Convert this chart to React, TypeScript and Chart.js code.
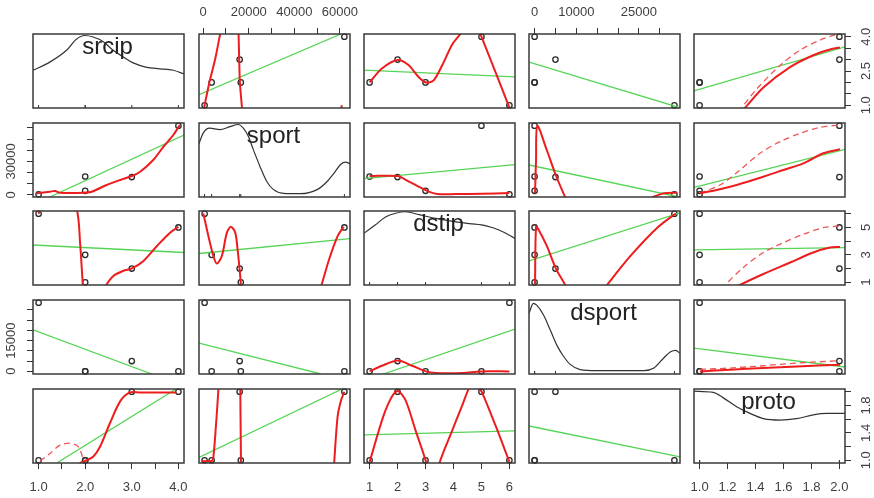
import React, { useEffect, useRef } from 'react';
import { Chart, registerables } from 'chart.js';

Chart.register(...registerables);

// ---------------- observations ----------------
const varNames = ['srcip', 'sport', 'dstip', 'dsport', 'proto'];
const srcip = [1, 2, 2, 3, 4];
const sport = [600, 3700, 16500, 16000, 62000];
const dstip = [6, 3, 1, 2, 5];
const dsport = [33500, 0, 0, 5000, 0];
const proto = [1, 1, 1, 2, 2];

// ---------------- ticks and tick labels ('' = unlabeled tick) ----------------
const srcipTicks = [1, 1.5, 2, 2.5, 3, 3.5, 4];
const sportTicks = [0, 10000, 20000, 30000, 40000, 50000, 60000];
const dstipTicks = [1, 2, 3, 4, 5, 6];
const dsportTicks = [0, 5000, 10000, 15000, 20000, 25000, 30000];
const protoTicks = [1, 1.2, 1.4, 1.6, 1.8, 2];

const srcipBottomLabels = ['1.0', '', '2.0', '', '3.0', '', '4.0'];
const srcipRightLabels = ['1.0', '', '', '2.5', '', '', '4.0'];
const sportTopLabels = ['0', '', '20000', '', '40000', '', '60000'];
const sportLeftLabels = ['0', '', '', '30000', '', '', ''];
const dstipBottomLabels = ['1', '2', '3', '4', '5', '6'];
const dstipRightLabels = ['1', '', '3', '', '5', ''];
const dsportTopLabels = ['0', '', '10000', '', '', '25000', ''];
const dsportLeftLabels = ['0', '', '', '15000', '', '', ''];
const protoBottomLabels = ['1.0', '1.2', '1.4', '1.6', '1.8', '2.0'];
const protoRightLabels = ['1.0', '', '1.4', '', '1.8', ''];

// ---------------- diagonal densities [value, relative height] ----------------
const densSrcip = [[0.88, 0.51], [1.24, 0.62], [1.6, 0.78], [1.81, 0.93], [1.99, 0.98], [2.17, 0.96], [2.38, 0.9], [2.6, 0.78], [2.82, 0.69], [3.03, 0.61], [3.32, 0.55], [3.6, 0.53], [3.89, 0.51], [4.12, 0.46]];
const densSport = [[-1856, 0.72], [-88, 0.86], [2860, 0.93], [7280, 0.91], [11700, 0.95], [15385, 0.98], [17600, 0.93], [19800, 0.82], [22000, 0.64], [24960, 0.41], [27900, 0.21], [30860, 0.1], [35270, 0.05], [42650, 0.045], [50000, 0.1], [54440, 0.21], [57380, 0.32], [60330, 0.44], [62540, 0.47], [64456, 0.45]];
const densDstip = [[0.8, 0.7], [1.2, 0.81], [1.57, 0.92], [1.93, 0.97], [2.29, 0.99], [2.77, 0.95], [3.37, 0.9], [3.97, 0.86], [4.57, 0.83], [5.17, 0.8], [5.65, 0.74], [6.2, 0.63]];
const densDsport = [[-1340, 0.82], [-297, 0.955], [505, 0.93], [2110, 0.8], [3710, 0.6], [5320, 0.39], [6920, 0.24], [8530, 0.13], [10930, 0.06], [14940, 0.045], [26180, 0.045], [28580, 0.08], [30990, 0.22], [32590, 0.3], [33800, 0.32], [34840, 0.28]];
const densProto = [[0.96, 0.97], [1.098, 0.955], [1.17, 0.88], [1.265, 0.76], [1.36, 0.67], [1.456, 0.6], [1.575, 0.58], [1.694, 0.6], [1.813, 0.65], [1.909, 0.67], [2.04, 0.67]];

// ---------------- linear fits (green) [x, y] ; name fit_<yvar>_<xvar> ----------------
const fit_srcip_sport = [[-1856, 1.46], [60500, 4.12]];
const fit_srcip_dstip = [[0.8, 2.54], [6.2, 2.24]];
const fit_srcip_dsport = [[-1340, 2.89], [34840, 0.89]];
const fit_srcip_proto = [[0.96, 1.63], [2.04, 3.56]];
const fit_sport_srcip = [[1.24, -1856], [4.12, 53700]];
const fit_sport_dstip = [[0.8, 14540], [6.2, 27090]];
const fit_sport_dsport = [[-1340, 26820], [34840, -2100]];
const fit_sport_proto = [[0.96, 6830], [2.04, 40900]];
const fit_dstip_srcip = [[0.88, 3.72], [4.12, 3.17]];
const fit_dstip_sport = [[-1856, 3.1], [64456, 4.18]];
const fit_dstip_dsport = [[-1340, 2.56], [34840, 6.07]];
const fit_dstip_proto = [[0.96, 3.36], [2.04, 3.53]];
const fit_dsport_srcip = [[0.88, 20230], [3.43, -1340]];
const fit_dsport_sport = [[-1856, 13750], [51640, -1340]];
const fit_dsport_dstip = [[1.49, -1340], [6.2, 20570]];
const fit_dsport_proto = [[0.96, 11320], [2.04, 2070]];
const fit_proto_srcip = [[1.39, 0.96], [3.95, 2.04]];
const fit_proto_sport = [[-1856, 1.04], [61000, 2.04]];
const fit_proto_dstip = [[0.8, 1.37], [6.2, 1.43]];
const fit_proto_dsport = [[-1340, 1.5], [34840, 1.05]];

// ---------------- smoothers (red, solid) ----------------
const smooth_srcip_sport = [
  [[0, 0.7], [355, 0.88], [2700, 2], [5200, 3], [7430, 4.12], [7800, 4.3]],
  [[15450, 4.3], [15520, 4.12], [15800, 3], [16100, 2], [17020, 0.88], [17100, 0.7]],
  [[60400, 0.75], [60900, 1.0]],
];
const smooth_srcip_dstip = [
  [[1, 2], [1.44, 2.61], [2.01, 2.98], [2.39, 2.76], [2.75, 2.24], [3.02, 2.0], [3.29, 2.09], [3.6, 2.76], [3.95, 3.65], [4.25, 4.12], [4.6, 4.7], [4.91, 4.2], [5, 4], [6, 0.9]],
];
const smooth_srcip_proto = [[[1.3, 0.75], [1.325, 0.89], [1.456, 1.78], [1.647, 2.67], [1.813, 3.19], [1.933, 3.44], [2.004, 3.53]]];
const smooth_sport_srcip = [[[0.96, 1460], [1.245, 2900], [1.35, 3520], [1.46, 2000], [1.96, 2000], [2.14, 2900], [2.46, 8900], [2.75, 13400], [3.0, 16960], [3.18, 20800], [3.46, 31300], [3.68, 43200], [3.89, 53700], [4.03, 62700]]];
const smooth_sport_dstip = [[[1, 16900], [2, 16900], [2.39, 12200], [3.02, 4100], [3.42, 830], [4.08, 830], [5, 1100], [6, 1700]]];
const smooth_sport_dsport = [
  [[104, 1460], [345, 31300], [660, 61800], [2920, 40260], [5160, 16960], [7330, -2100]],
  [[28200, -2100], [31000, 1460], [34200, 2000]],
];
const smooth_sport_proto = [[[1.003, 1460], [1.122, 4400], [1.265, 8900], [1.456, 16300], [1.599, 22300], [1.742, 28300], [1.885, 37300], [2.004, 40900]]];
const smooth_dstip_srcip = [
  [[1, 6], [1.2, 7.5], [1.6, 7.5], [1.82, 6.3], [1.89, 3.89], [1.95, 0.8], [1.97, 0.3]],
  [[2.42, 0.5], [2.45, 0.8], [2.61, 1.47], [2.82, 1.84], [3.0, 2.01], [3.25, 2.56], [3.54, 3.65], [3.82, 4.62], [4.0, 5.05]],
];
const smooth_dstip_sport = [
  [[45, 6.02], [2260, 4.37], [4460, 2.92], [5970, 2.37], [8180, 2.92], [10390, 4.62], [12150, 5.05], [14060, 4.62], [15080, 3.41], [15960, 1.96], [16580, 0.8], [16700, 0.4]],
  [[51000, 0.4], [51950, 0.8], [55300, 2.68], [59020, 4.37], [61670, 5.05]],
];
const smooth_dstip_dsport = [
  [[90, 0.4], [104, 0.8], [345, 5.05], [900, 4.86], [2920, 3.65], [5160, 1.96], [7330, 0.8], [7700, 0.4]],
  [[16500, 0.4], [17360, 0.8], [22970, 2.92], [29390, 4.98], [33800, 6.02]],
];
const smooth_dstip_proto = [[[1.26, 0.6], [1.289, 0.8], [1.456, 1.6], [1.647, 2.44], [1.813, 3.17], [1.933, 3.53], [2.004, 3.58]]];
const smooth_dsport_dstip = [[[1, -75], [1.44, 2700], [2.01, 5280], [2.52, 2700], [3.02, -75], [3.36, -850], [4.32, -850], [4.98, -75], [6, -75]]];
const smooth_dsport_proto = [[[1.003, -75], [1.218, 750], [1.456, 1580], [1.695, 2360], [2.004, 3190]]];
const smooth_proto_srcip = [[[1.85, 0.9], [1.89, 0.96], [1.996, 0.99], [2.17, 1.05], [2.32, 1.2], [2.53, 1.54], [2.75, 1.86], [2.96, 1.99], [3.18, 1.99], [3.96, 1.99]]];
const smooth_proto_sport = [
  [[-660, 0.99], [3760, 0.99], [4470, 1.05], [5660, 1.54], [6680, 2.04], [6900, 2.2]],
  [[16250, 2.2], [16270, 2.04], [16580, 0.96], [16600, 0.8]],
  [[57400, 0.8], [57520, 0.96], [59020, 1.64], [60480, 1.87], [61950, 2.0]],
];
const smooth_proto_dstip = [
  [[1, 0.975], [1.49, 1.64], [1.8, 1.93], [2.01, 2.01], [2.28, 1.88], [2.64, 1.44], [3.02, 0.975], [3.15, 0.7]],
  [[3.42, 0.7], [3.5, 0.96], [3.96, 1.44], [4.32, 1.81], [4.53, 2.03], [4.75, 2.2], [4.92, 2.03], [5.0, 2.01], [5.52, 1.49], [6.0, 0.975]],
];

// ---------------- spread smoothers (red, dashed) ----------------
const spread_srcip_proto = [[[1.28, 0.7], [1.301, 0.89], [1.408, 1.71], [1.575, 2.74], [1.718, 3.41], [1.861, 3.85], [1.968, 4.08], [2.0, 4.08]]];
const spread_sport_proto = [[[1.003, 1460], [1.146, 8900], [1.289, 22300], [1.432, 37300], [1.575, 47700], [1.718, 55200], [1.861, 60600], [2.004, 62700]]];
const spread_dstip_proto = [[[1.16, 0.5], [1.182, 0.8], [1.313, 2.08], [1.456, 3.17], [1.599, 3.89], [1.742, 4.5], [1.885, 4.98], [2.004, 5.1]]];
const spread_dsport_proto = [[[1.003, 900], [1.218, 1580], [1.456, 2700], [1.695, 4020], [2.004, 5140]]];
const spread_proto_srcip = [[[1.03, 0.985], [1.245, 1.1], [1.46, 1.22], [1.67, 1.25], [1.85, 1.2], [1.96, 1.02], [2.0, 0.97]]];

// ---------------- lookup tables built from the arrays above ----------------
const observations = [srcip, sport, dstip, dsport, proto];
const tickTable = [srcipTicks, sportTicks, dstipTicks, dsportTicks, protoTicks];
const densTable = [densSrcip, densSport, densDstip, densDsport, densProto];
const topLabelTable = [null, sportTopLabels, null, dsportTopLabels, null];
const bottomLabelTable = [srcipBottomLabels, null, dstipBottomLabels, null, protoBottomLabels];
const leftLabelTable = [null, sportLeftLabels, null, dsportLeftLabels, null];
const rightLabelTable = [srcipRightLabels, null, dstipRightLabels, null, protoRightLabels];

const fits: Record<string, number[][]> = {
  srcip_sport: fit_srcip_sport, srcip_dstip: fit_srcip_dstip, srcip_dsport: fit_srcip_dsport, srcip_proto: fit_srcip_proto,
  sport_srcip: fit_sport_srcip, sport_dstip: fit_sport_dstip, sport_dsport: fit_sport_dsport, sport_proto: fit_sport_proto,
  dstip_srcip: fit_dstip_srcip, dstip_sport: fit_dstip_sport, dstip_dsport: fit_dstip_dsport, dstip_proto: fit_dstip_proto,
  dsport_srcip: fit_dsport_srcip, dsport_sport: fit_dsport_sport, dsport_dstip: fit_dsport_dstip, dsport_proto: fit_dsport_proto,
  proto_srcip: fit_proto_srcip, proto_sport: fit_proto_sport, proto_dstip: fit_proto_dstip, proto_dsport: fit_proto_dsport,
};
const smooths: Record<string, number[][][]> = {
  srcip_sport: smooth_srcip_sport, srcip_dstip: smooth_srcip_dstip, srcip_proto: smooth_srcip_proto,
  sport_srcip: smooth_sport_srcip, sport_dstip: smooth_sport_dstip, sport_dsport: smooth_sport_dsport, sport_proto: smooth_sport_proto,
  dstip_srcip: smooth_dstip_srcip, dstip_sport: smooth_dstip_sport, dstip_dsport: smooth_dstip_dsport, dstip_proto: smooth_dstip_proto,
  dsport_dstip: smooth_dsport_dstip, dsport_proto: smooth_dsport_proto,
  proto_srcip: smooth_proto_srcip, proto_sport: smooth_proto_sport, proto_dstip: smooth_proto_dstip,
};
const spreads: Record<string, number[][][]> = {
  srcip_proto: spread_srcip_proto, sport_proto: spread_sport_proto, dstip_proto: spread_dstip_proto,
  dsport_proto: spread_dsport_proto, proto_srcip: spread_proto_srcip,
};

// ---------------- layout & style ----------------
const FONT = '"Liberation Sans", Arial, Helvetica, sans-serif';
const M = 45;
const PW = 151;
const PH = 74;
const colLeft = [33, 199, 364, 529, 694];
const rowTop = [34, 123, 211, 300, 389];
const GREEN = '#55d455';
const RED = '#ee1d1d';
const RED_DASH = '#f05555';
const INK = '#333333';
const LABEL = '#3f3f3f';

function rangeOf(v: number[]) {
  const lo = Math.min(...v);
  const hi = Math.max(...v);
  const pad = (hi - lo) * 0.04;
  return [lo - pad, hi + pad];
}

let measureCtx: CanvasRenderingContext2D | null = null;
function widest(labels: string[]) {
  if (!measureCtx) measureCtx = document.createElement('canvas').getContext('2d');
  measureCtx!.font = '13px ' + FONT;
  return Math.max(...labels.map((l) => measureCtx!.measureText(l).width));
}

function axis(id: string, position: string, range: number[], ticks: number[], labels: string[] | null) {
  const horizontal = position === 'top' || position === 'bottom';
  const show = !!labels;
  let padding = 0;
  if (show) {
    if (position === 'top') padding = 8;
    else if (position === 'bottom') padding = 10.5;
    else if (position === 'left') padding = 15.5 - widest(labels!) / 2;
    else padding = 15 - widest(labels!) / 2;
  }
  return {
    type: 'linear',
    axis: horizontal ? 'x' : 'y',
    position,
    min: range[0],
    max: range[1],
    afterBuildTicks: (s: any) => {
      s.ticks = ticks.map((v) => ({ value: v }));
    },
    afterFit: (s: any) => {
      if (horizontal) s.height = M;
      else s.width = M;
    },
    grid: { display: show, drawOnChartArea: false, drawTicks: true, tickLength: 6, tickColor: INK, lineWidth: 1 },
    border: { display: false },
    ticks: {
      display: show,
      autoSkip: false,
      padding,
      color: LABEL,
      font: { family: FONT, size: 13 },
      callback: (_v: any, i: number) => (labels ? labels[i] : ''),
      minRotation: horizontal ? 0 : 90,
      maxRotation: horizontal ? 0 : 90,
      crossAlign: horizontal ? 'near' : 'center',
    },
  };
}

const framePlugin = {
  id: 'frame',
  afterDatasetsDraw(chart: any) {
    const { ctx, chartArea: a } = chart;
    ctx.save();
    ctx.strokeStyle = '#3a3a3a';
    ctx.lineWidth = 1.5;
    ctx.strokeRect(a.left, a.top, a.right - a.left, a.bottom - a.top);
    ctx.restore();
  },
};

const diagLabelPlugin = {
  id: 'diagLabel',
  afterDatasetsDraw(chart: any, _args: any, opts: any) {
    if (!opts || !opts.text) return;
    const { ctx, chartArea: a } = chart;
    ctx.save();
    ctx.font = '24px ' + FONT;
    ctx.fillStyle = '#222222';
    ctx.textAlign = 'center';
    ctx.textBaseline = 'alphabetic';
    ctx.fillText(opts.text, (a.left + a.right) / 2 - 1, a.top + 19.5);
    ctx.restore();
  },
};

function toXY(pts: number[][]) {
  return pts.map(([x, y]) => ({ x, y }));
}

function buildConfig(r: number, c: number) {
  const xr = rangeOf(observations[c]);
  const yr = rangeOf(observations[r]);
  const key = varNames[r] + '_' + varNames[c];
  const datasets: any[] = [];
  const scales: any = {
    xb: axis('xb', 'bottom', xr, tickTable[c], r === 4 ? bottomLabelTable[c] : null),
    xt: axis('xt', 'top', xr, tickTable[c], r === 0 ? topLabelTable[c] : null),
    yl: axis('yl', 'left', yr, tickTable[r], c === 0 ? leftLabelTable[r] : null),
    yr: axis('yr', 'right', yr, tickTable[r], c === 4 ? rightLabelTable[r] : null),
  };
  if (r === c) {
    scales.dens = { type: 'linear', axis: 'y', position: 'left', display: false, min: 0, max: 1 };
    datasets.push({
      data: toXY(densTable[c]),
      xAxisID: 'xb', yAxisID: 'dens',
      showLine: true, borderColor: INK, borderWidth: 1.2, pointRadius: 0,
      cubicInterpolationMode: 'monotone',
    });
    datasets.push({
      data: observations[c].map((x) => ({ x, y: 0 })),
      xAxisID: 'xb', yAxisID: 'dens',
      showLine: false, pointStyle: 'line', pointRotation: 90, pointRadius: 3,
      pointBorderColor: INK, pointBorderWidth: 1, clip: 0,
    });
  } else {
    (smooths[key] || []).forEach((line) =>
      datasets.push({
        data: toXY(line), xAxisID: 'xb', yAxisID: 'yl',
        showLine: true, borderColor: RED, borderWidth: 2, pointRadius: 0, tension: 0.3,
      })
    );
    (spreads[key] || []).forEach((line) =>
      datasets.push({
        data: toXY(line), xAxisID: 'xb', yAxisID: 'yl',
        showLine: true, borderColor: RED_DASH, borderWidth: 1.3, borderDash: [6, 4], pointRadius: 0, tension: 0.3,
      })
    );
    if (fits[key]) {
      datasets.push({
        data: toXY(fits[key]), xAxisID: 'xb', yAxisID: 'yl',
        showLine: true, borderColor: GREEN, borderWidth: 1.3, pointRadius: 0, tension: 0,
      });
    }
    datasets.push({
      data: observations[c].map((x, i) => ({ x, y: observations[r][i] })),
      xAxisID: 'xb', yAxisID: 'yl',
      showLine: false, pointRadius: 2.7, pointBorderColor: '#2a2a2a',
      pointBackgroundColor: 'rgba(0,0,0,0)', pointBorderWidth: 1.3, clip: 6,
    });
  }
  return {
    type: 'scatter',
    data: { datasets },
    options: {
      responsive: false,
      animation: false,
      devicePixelRatio: 1,
      events: [],
      layout: { padding: 0 },
      elements: { line: { capBezierPoints: false } },
      plugins: {
        legend: { display: false },
        tooltip: { enabled: false },
        diagLabel: { text: r === c ? varNames[c] : '' },
      },
      scales,
    },
    plugins: [framePlugin, diagLabelPlugin],
  };
}

function Panel({ r, c }: { r: number; c: number }) {
  const ref = useRef<HTMLCanvasElement>(null);
  useEffect(() => {
    const chart = new Chart(ref.current as HTMLCanvasElement, buildConfig(r, c) as any);
    return () => chart.destroy();
  }, [r, c]);
  return (
    <canvas
      ref={ref}
      width={PW + 2 * M}
      height={PH + 2 * M}
      style={{ position: 'absolute', left: colLeft[c] - M, top: rowTop[r] - M, width: PW + 2 * M, height: PH + 2 * M }}
    />
  );
}

export default function App() {
  const cells: any[] = [];
  for (let r = 0; r < 5; r++) {
    for (let c = 0; c < 5; c++) {
      cells.push(<Panel key={r + '-' + c} r={r} c={c} />);
    }
  }
  return (
    <div style={{ position: 'fixed', left: 0, top: 0, width: 874, height: 498, background: '#ffffff', overflow: 'hidden' }}>
      {cells}
    </div>
  );
}
